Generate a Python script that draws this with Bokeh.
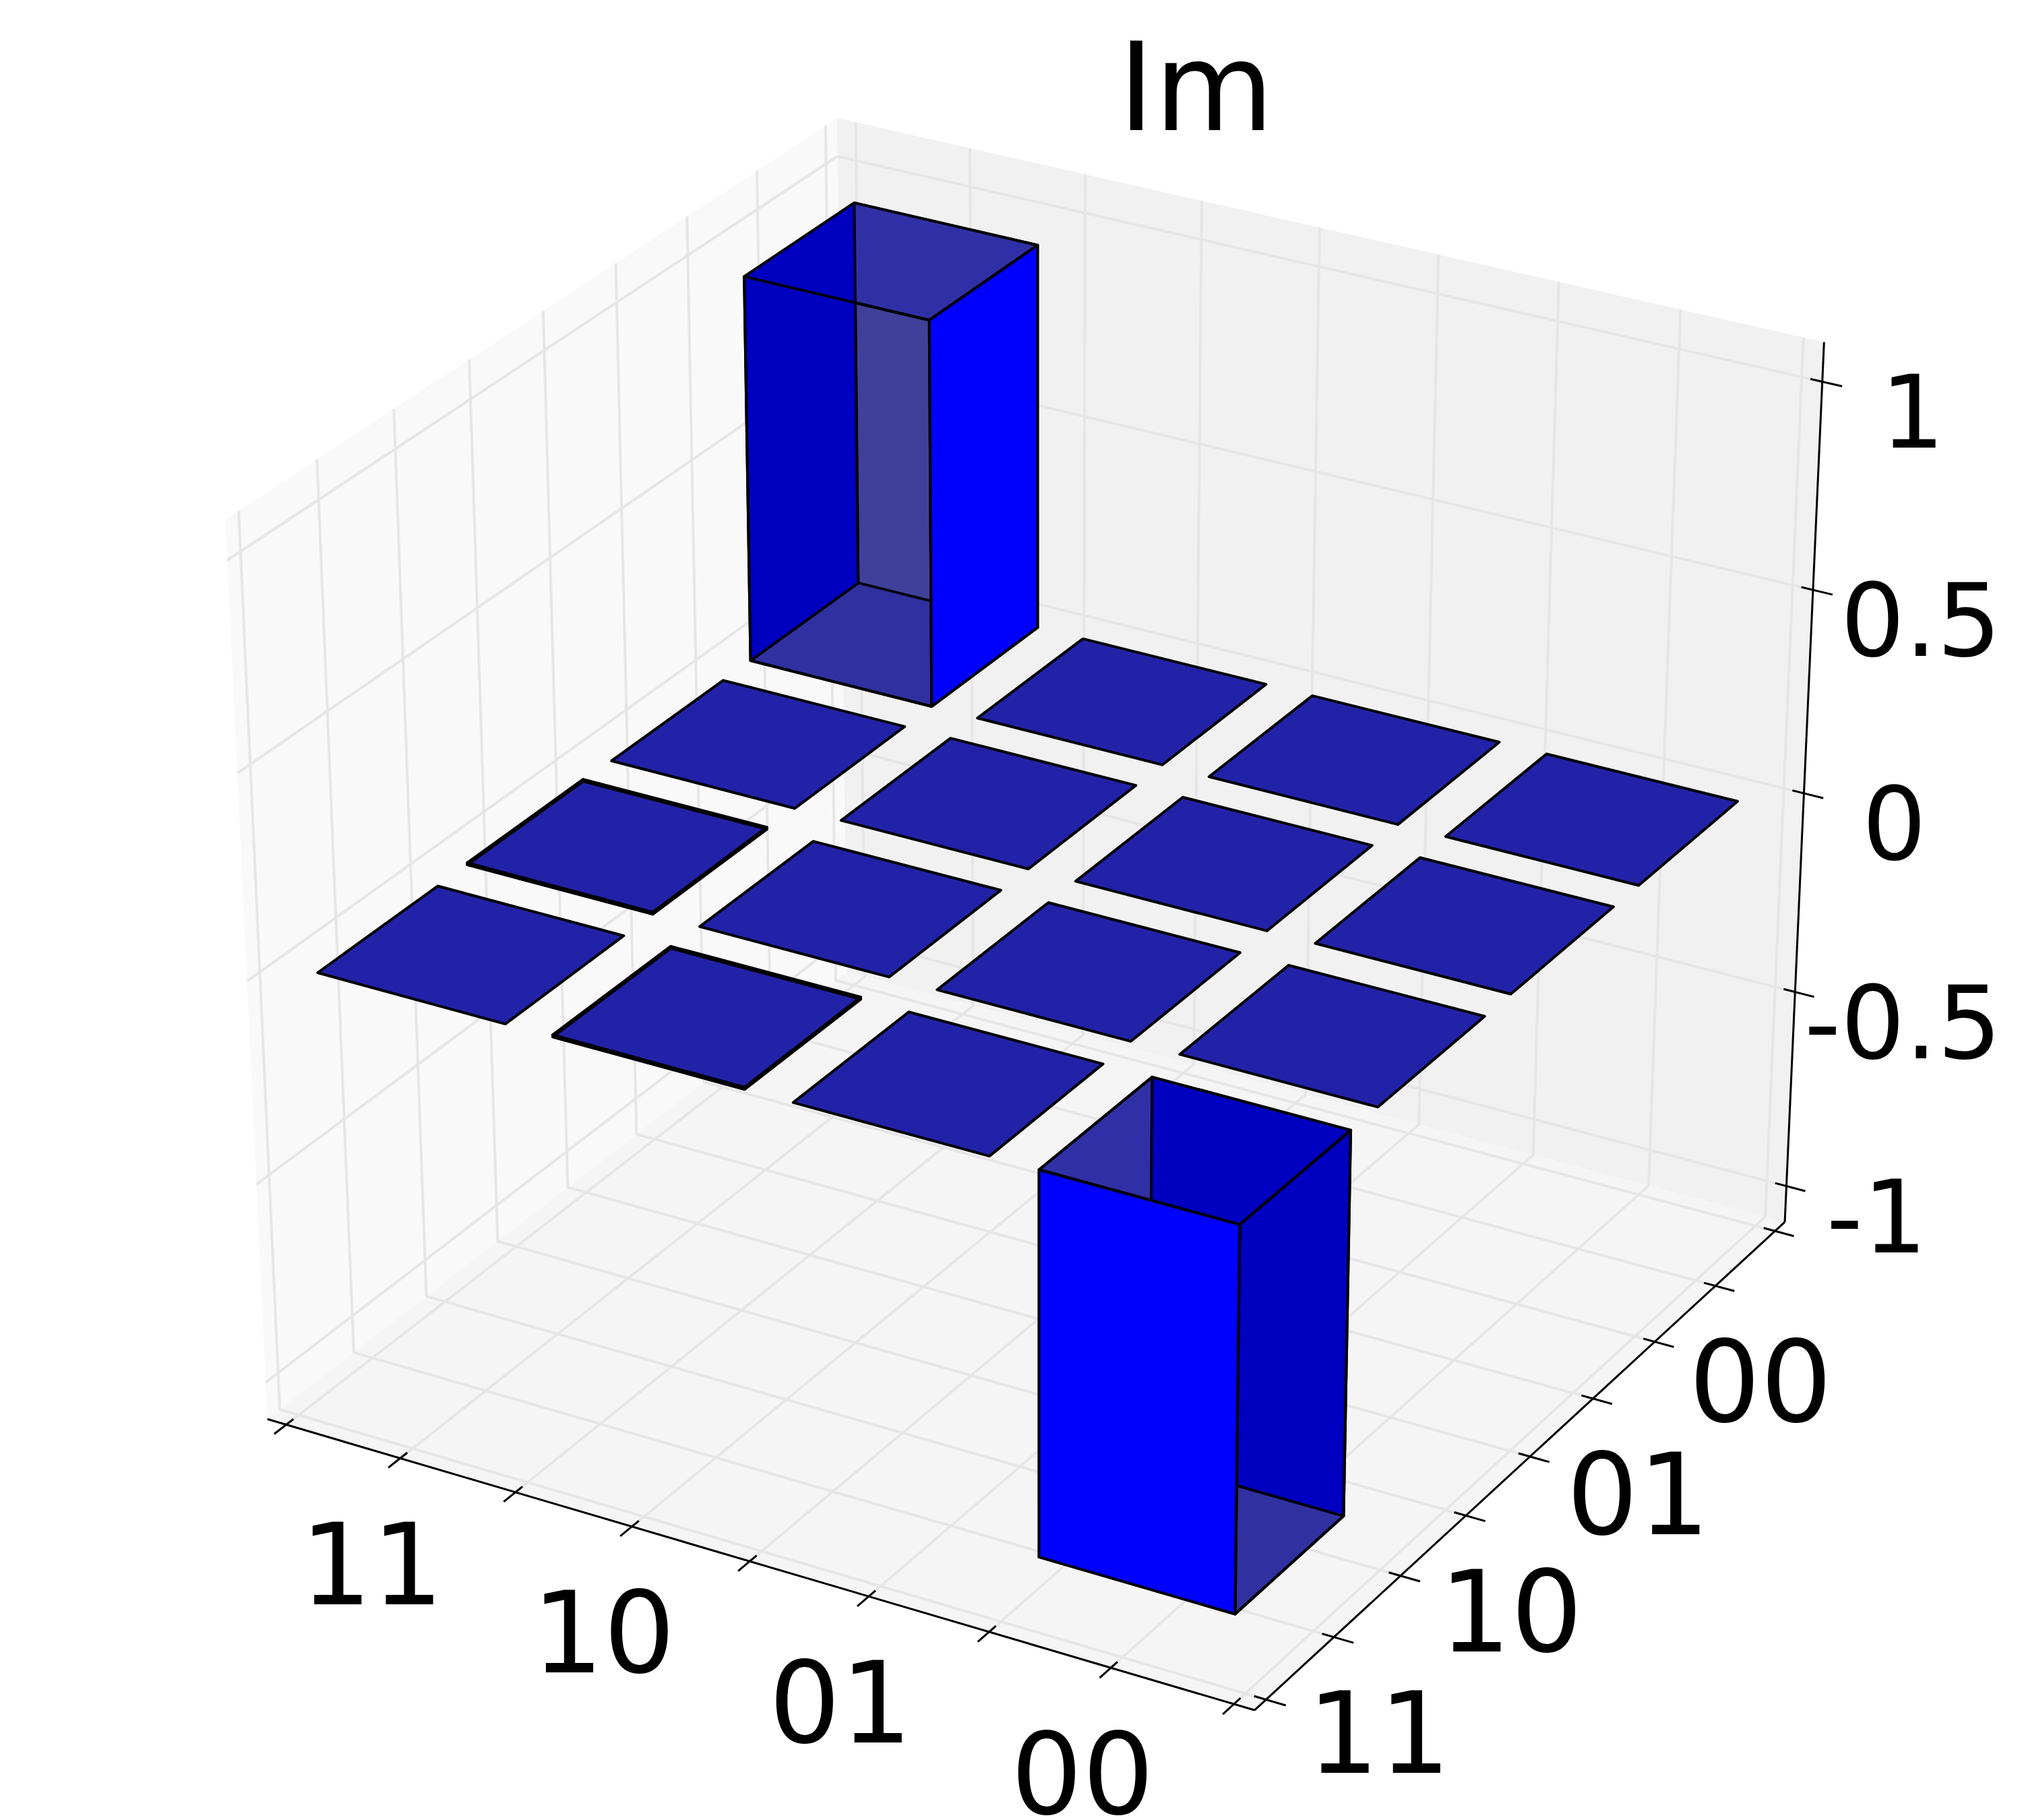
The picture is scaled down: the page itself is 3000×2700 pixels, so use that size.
import numpy as np
from bokeh.core.properties import value
from bokeh.embed import file_html
from bokeh.models import ColumnDataSource, Range1d
from bokeh.plotting import figure
from bokeh.resources import INLINE

# ---- data ----
TITLE = "Im"
X_LABELS = ["11", "10", "01", "00"]
Y_LABELS = ["11", "10", "01", "00"]
Z_LABELS = ["-1", "-0.5", "0", "0.5", "1"]
Z_TICKS = [-1.0, -0.5, 0.0, 0.5, 1.0]
X_TICKS = [0.0, 0.5, 1.0, 1.5, 2.0, 2.5, 3.0, 3.5, 4.0]
Y_TICKS = [0.0, 0.5, 1.0, 1.5, 2.0, 2.5, 3.0, 3.5, 4.0]
# values[i][j]: i = position along x axis, j = position along y axis
VALUES_X0 = [0.0, 0.005, 0.0, 0.95]
VALUES_X1 = [0.005, 0.0, 0.0, 0.0]
VALUES_X2 = [0.0, 0.0, 0.0, 0.0]
VALUES_X3 = [-0.945, 0.0, 0.0, 0.0]
VALUES = [VALUES_X0, VALUES_X1, VALUES_X2, VALUES_X3]
BAR_WIDTH = 0.8

# ---- camera ----
XLIM, YLIM, ZLIM = (0.0, 4.0), (0.0, 4.0), (-1.05, 1.05)
AZIM, ELEV, DIST = np.radians(-60.0), np.radians(30.0), 10.0
SX, SY, TX, TY = 1623.0, 1462.0, 1540.0, 1313.5
W, H = 3000, 2700
M = 1 / 48  # pane margin, in normalised units
LO, HI = -M, 1 + M

R_ = np.array([-np.sin(AZIM), np.cos(AZIM), 0.0])
U_ = np.array([-np.sin(ELEV) * np.cos(AZIM), -np.sin(ELEV) * np.sin(AZIM), np.cos(ELEV)])
N_ = np.array([np.cos(ELEV) * np.cos(AZIM), np.cos(ELEV) * np.sin(AZIM), np.sin(ELEV)])


def nproj(pts):
    """normalised box coordinates -> picture plane"""
    q = np.asarray(pts, float) - 0.5
    f = DIST / (DIST - q @ N_)
    return (q @ R_ * f).tolist(), (q @ U_ * f).tolist()


def nx(v): return (v - XLIM[0]) / (XLIM[1] - XLIM[0])
def ny(v): return (v - YLIM[0]) / (YLIM[1] - YLIM[0])
def nz(v): return (v - ZLIM[0]) / (ZLIM[1] - ZLIM[0])


p = figure(
    width=W, height=H, output_backend="svg", toolbar_location=None, min_border=0,
    x_range=Range1d(-TX / SX, (W - TX) / SX),
    y_range=Range1d((TY - H) / SY, TY / SY),
)
p.axis.visible = False
p.grid.visible = False
p.outline_line_color = None
p.background_fill_color = "white"
p.border_fill_color = "white"

# ---- panes ----
pane_corners = [
    ([(LO, LO, LO), (LO, HI, LO), (LO, HI, HI), (LO, LO, HI)], "#f9f9f9"),
    ([(LO, HI, LO), (HI, HI, LO), (HI, HI, HI), (LO, HI, HI)], "#f1f1f1"),
    ([(LO, LO, LO), (HI, LO, LO), (HI, HI, LO), (LO, HI, LO)], "#f5f5f5"),
]
xs, ys, cs = [], [], []
for c, col in pane_corners:
    a, b = nproj(c)
    xs.append(a); ys.append(b); cs.append(col)
p.patches(xs, ys, fill_color=cs, line_color=None)

# ---- grid ----
gx, gy = [], []
for t in X_TICKS:
    a, b = nproj([(nx(t), LO, LO), (nx(t), HI, LO), (nx(t), HI, HI)])
    gx.append(a); gy.append(b)
for t in Y_TICKS:
    a, b = nproj([(HI, ny(t), LO), (LO, ny(t), LO), (LO, ny(t), HI)])
    gx.append(a); gy.append(b)
for t in Z_TICKS:
    a, b = nproj([(LO, LO, nz(t)), (LO, HI, nz(t)), (HI, HI, nz(t))])
    gx.append(a); gy.append(b)
p.multi_line(gx, gy, line_color="#e6e6e6", line_width=4)

# ---- axis lines and ticks ----
ax_x, ax_y = [], []
for seg in ([(LO, LO, LO), (HI, LO, LO)], [(HI, LO, LO), (HI, HI, LO)], [(HI, HI, LO), (HI, HI, HI)]):
    a, b = nproj(seg)
    ax_x.append(a); ax_y.append(b)
TIN, TOUT = 0.012, 0.020
for t in X_TICKS:
    a, b = nproj([(nx(t), LO + TIN, LO), (nx(t), LO - TOUT, LO)])
    ax_x.append(a); ax_y.append(b)
for t in Y_TICKS:
    a, b = nproj([(HI - TIN, ny(t), LO), (HI + TOUT, ny(t), LO)])
    ax_x.append(a); ax_y.append(b)
for t in Z_TICKS:
    a, b = nproj([(HI - TIN, HI, nz(t)), (HI + TOUT, HI, nz(t))])
    ax_x.append(a); ax_y.append(b)
p.multi_line(ax_x, ax_y, line_color="black", line_width=3)

# ---- bars ----
BRIGHT, DARK = "#0000ff", "#0000c0"
CELL = "#2222a8"
faces = dict(xs=[], ys=[], fill_color=[], fill_alpha=[], line_alpha=[])


def add_face(pts, col=None, fa=1.0, la=1.0):
    a, b = nproj(pts)
    faces["xs"].append(a); faces["ys"].append(b)
    faces["fill_color"].append(col or "#000000")
    faces["fill_alpha"].append(fa if col else 0.0)
    faces["line_alpha"].append(la)


for i, row in enumerate(VALUES):
    for j, v in enumerate(row):
        x0, x1 = nx(i + 0.5 - BAR_WIDTH / 2), nx(i + 0.5 + BAR_WIDTH / 2)
        y0, y1 = ny(j + 0.5 - BAR_WIDTH / 2), ny(j + 0.5 + BAR_WIDTH / 2)
        zb, zt = nz(min(v, 0.0)), nz(max(v, 0.0))
        top = [(x0, y0, zt), (x1, y0, zt), (x1, y1, zt), (x0, y1, zt)]
        bot = [(x0, y0, zb), (x1, y0, zb), (x1, y1, zb), (x0, y1, zb)]
        front = [(x0, y0, zb), (x1, y0, zb), (x1, y0, zt), (x0, y0, zt)]
        back = [(x0, y1, zb), (x1, y1, zb), (x1, y1, zt), (x0, y1, zt)]
        left = [(x0, y0, zb), (x0, y1, zb), (x0, y1, zt), (x0, y0, zt)]
        right = [(x1, y0, zb), (x1, y1, zb), (x1, y1, zt), (x1, y0, zt)]
        if abs(v) < 0.1:
            if v != 0.0:
                add_face(front, "#000000")
                add_face(right, "#000000")
            add_face(top, CELL)
            if v != 0.0:
                add_face(bot)
        elif v > 0:
            add_face(back, "#40409a", 1.0, 0.8)
            add_face(bot, "#3030a0", 1.0, 0.8)
            add_face(top, "#3030a6", 1.0)
            add_face(left, DARK, 1.0, 0.9)
            add_face(front)
            add_face(right, BRIGHT)
        else:
            add_face(bot, "#3030a0", 1.0, 0.9)
            add_face(left, "#3030a6", 1.0, 0.8)
            add_face(back, DARK, 1.0, 0.9)
            add_face(front, BRIGHT)
            add_face(top)
            add_face(right)
p.patches("xs", "ys", source=ColumnDataSource(faces), fill_color="fill_color", fill_alpha="fill_alpha",
          line_color="black", line_alpha="line_alpha", line_width=4, line_join="round")

# ---- texts ----
FONT = value("DejaVu Sans")


def labels(pts, texts, size, dx, dy):
    a, b = nproj(pts)
    dxs = dx if isinstance(dx, list) else [dx] * len(texts)
    p.text(a, b, text=texts, x_offset=dxs, y_offset=dy, text_font=FONT, text_font_size=value(size),
           text_align="center", text_baseline="middle", text_color="black")


centers = [0.5, 1.5, 2.5, 3.5]
labels([(nx(t), LO, LO) for t in centers], X_LABELS, "167px", -42, 155)
labels([(HI, ny(t), LO) for t in centers], Y_LABELS, "167px", 67, 140)
labels([(HI, HI, nz(t)) for t in Z_TICKS], Z_LABELS, "150px",
       [160 if "." in s else 134 for s in Z_LABELS], 43)
p.text([(1774 - TX) / SX], [(TY - 129) / SY], text=[TITLE], text_font=FONT, text_font_size=value("182px"),
       text_align="center", text_baseline="middle", text_color="black")

open("out.html", "w").write(file_html(p, INLINE))
